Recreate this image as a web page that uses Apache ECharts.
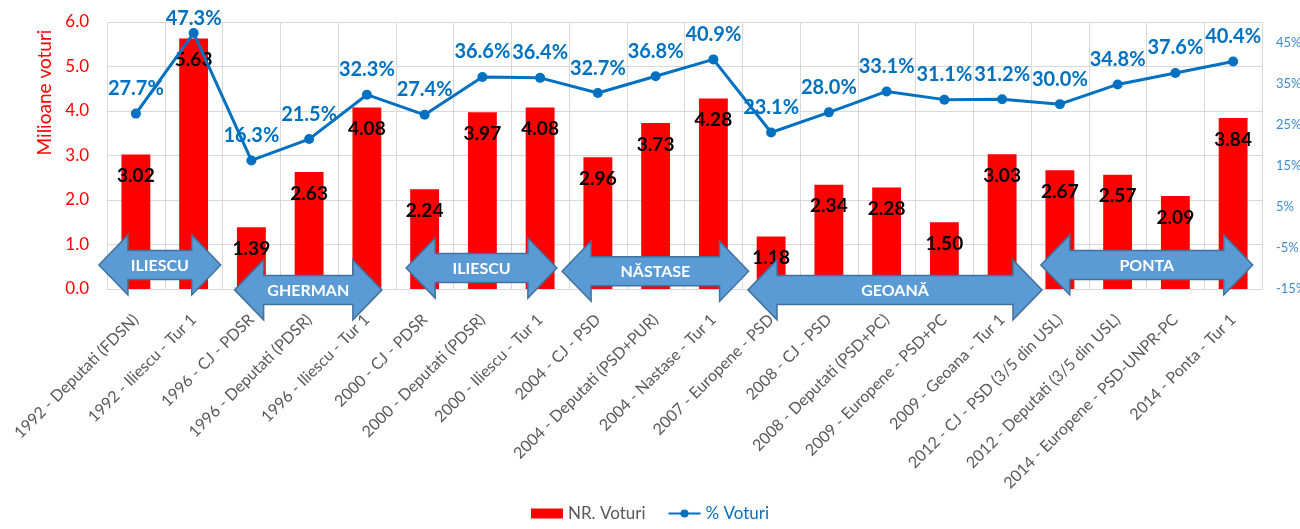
<!DOCTYPE html>
<html>
<head>
<meta charset="utf-8">
<script src="https://cdn.jsdelivr.net/npm/echarts@6/dist/echarts.min.js"></script>
<style>
  html, body { margin: 0; padding: 0; background: #fff; }
  #chart { width: 1300px; height: 529px; }
</style>
</head>
<body>
<div id="chart"></div>
<script>
var categories = [
  "1992 - Deputati (FDSN)", "1992 - Iliescu - Tur 1", "1996 - CJ - PDSR",
  "1996 - Deputati (PDSR)", "1996 - Iliescu - Tur 1", "2000 - CJ - PDSR",
  "2000 - Deputati (PDSR)", "2000 - Iliescu - Tur 1", "2004 - CJ - PSD",
  "2004 - Deputati (PSD+PUR)", "2004 - Nastase - Tur 1", "2007 - Europene - PSD",
  "2008 - CJ - PSD", "2008 - Deputati (PSD+PC)", "2009 - Europene - PSD+PC",
  "2009 - Geoana - Tur 1", "2012 - CJ - PSD (3/5 din USL)",
  "2012 - Deputati (3/5 din USL)", "2014 - Europene - PSD-UNPR-PC", "2014 - Ponta - Tur 1"
];
var nrVoturi = [3.02, 5.63, 1.39, 2.63, 4.08, 2.24, 3.97, 4.08, 2.96, 3.73,
                4.28, 1.18, 2.34, 2.28, 1.50, 3.03, 2.67, 2.57, 2.09, 3.84];
var procVoturi = [27.7, 47.3, 16.3, 21.5, 32.3, 27.4, 36.6, 36.4, 32.7, 36.8,
                  40.9, 23.1, 28.0, 33.1, 31.1, 31.2, 30.0, 34.8, 37.6, 40.4];

// candidate arrows: label, first/last category (fractional), level on left axis
var arrowNames = ["ILIESCU", "GHERMAN", "ILIESCU", "NĂSTASE", "GEOANĂ", "PONTA"];
var arrowFrom = [-0.64, 1.71, 4.68, 7.38, 10.6, 15.67];
var arrowTo = [1.47, 4.26, 7.29, 10.61, 15.69, 19.34];
var arrowLevel = [0.54, -0.02, 0.47, 0.40, -0.02, 0.54];

var font = "Lato, 'Open Sans', sans-serif";
var chart = echarts.init(document.getElementById("chart"));

// the highest label is pushed down so it stays inside the chart, like in Excel
var lineData = procVoturi.map(function (v) {
  return v > 45 ? { value: v, label: { distance: 0 } } : v;
});

chart.setOption({
  animation: false,
  textStyle: { fontFamily: font },
  grid: { left: 107, right: 38, top: 22, bottom: 240, outerBoundsMode: "none" },
  legend: {
    bottom: 2,
    left: "center",
    itemGap: 22,
    itemWidth: 32,
    itemHeight: 10,
    textStyle: { fontSize: 17, color: "#595959", fontFamily: font },
    data: [
      { name: "NR. Voturi", icon: "rect" },
      { name: "% Voturi", textStyle: { color: "#0070C0" } }
    ]
  },
  xAxis: {
    type: "category",
    data: categories,
    axisLine: { lineStyle: { color: "#D9D9D9" } },
    axisTick: { show: false },
    splitLine: { show: true, lineStyle: { color: "#D9D9D9" } },
    axisLabel: { interval: 0, rotate: 45, fontSize: 16, color: "#595959", margin: 28 }
  },
  yAxis: [
    {
      type: "value",
      min: 0,
      max: 6,
      interval: 1,
      name: "Milioane voturi",
      nameLocation: "middle",
      nameGap: 52,
      nameTextStyle: { color: "#FF0000", fontSize: 19, padding: [0, 0, 0, 126] },
      axisLine: { show: false },
      axisTick: { show: false },
      axisLabel: {
        fontSize: 17,
        color: "#FF0000",
        margin: 18,
        formatter: function (v) { return v.toFixed(1); }
      },
      splitLine: { lineStyle: { color: "#D9D9D9" } }
    },
    {
      type: "value",
      min: -15,
      max: 50,
      interval: 10,
      position: "right",
      axisLine: { show: false },
      axisTick: { show: false },
      splitLine: { show: false },
      axisLabel: {
        fontSize: 13,
        color: "#3F8BD0",
        margin: 14,
        showMaxLabel: false,
        formatter: "{value}%"
      }
    }
  ],
  series: [
    {
      name: "NR. Voturi",
      type: "bar",
      data: nrVoturi,
      barWidth: "50%",
      itemStyle: { color: "#FF0000" },
      label: {
        show: true,
        position: "insideTop",
        distance: 12,
        color: "#000",
        fontWeight: "bold",
        fontSize: 19,
        fontFamily: font,
        formatter: function (p) { return p.value.toFixed(2); }
      }
    },
    {
      name: "% Voturi",
      type: "line",
      yAxisIndex: 1,
      data: lineData,
      symbol: "circle",
      symbolSize: 10,
      lineStyle: { color: "#0070C0", width: 3 },
      itemStyle: { color: "#0070C0" },
      label: {
        show: true,
        position: "top",
        distance: 10,
        color: "#0070C0",
        fontWeight: "bold",
        fontSize: 20,
        fontFamily: font,
        formatter: function (p) { return p.value.toFixed(1) + "%"; }
      },
      z: 3
    }
  ]
});

// draw the double arrows on top, positioned through the axes
var x0 = chart.convertToPixel({ xAxisIndex: 0 }, 0);
var step = chart.convertToPixel({ xAxisIndex: 0 }, 1) - x0;
var graphics = [];
for (var i = 0; i < arrowNames.length; i++) {
  var xa = x0 + arrowFrom[i] * step;
  var xb = x0 + arrowTo[i] * step;
  var yc = chart.convertToPixel({ yAxisIndex: 0 }, arrowLevel[i]);
  var H = 30, h = 14.5, L = 29;
  graphics.push({
    type: "polygon",
    z: 100,
    shape: {
      points: [
        [xa, yc], [xa + L, yc - H], [xa + L, yc - h], [xb - L, yc - h], [xb - L, yc - H],
        [xb, yc], [xb - L, yc + H], [xb - L, yc + h], [xa + L, yc + h], [xa + L, yc + H]
      ]
    },
    style: { fill: "#5B9BD5", stroke: "#41719C", lineWidth: 1.5 }
  });
  graphics.push({
    type: "text",
    z: 101,
    x: (xa + xb) / 2,
    y: yc + 1,
    style: {
      text: arrowNames[i],
      fill: "#fff",
      font: "bold 16px " + font,
      align: "center",
      verticalAlign: "middle"
    }
  });
}
chart.setOption({ graphic: graphics });
</script>
</body>
</html>
